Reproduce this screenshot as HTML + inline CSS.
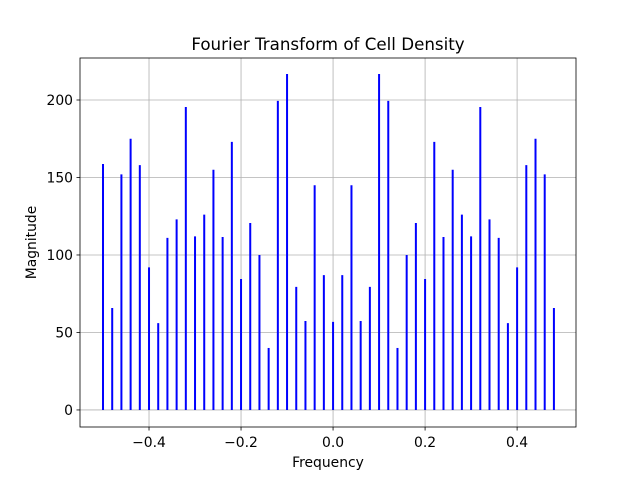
<!DOCTYPE html>
<html><head><meta charset="utf-8"><style>
body{margin:0;background:#fff;font-family:"Liberation Sans","DejaVu Sans",sans-serif}
svg text{font-family:"DejaVu Sans","Liberation Sans",sans-serif;fill:#000}
</style></head><body>
<svg id="c" width="640" height="480"></svg>
<script>
const freqs=[];for(let i=0;i<50;i++)freqs.push(-0.5+i*0.02);
const magnitudes=[158.7,65.8,152,175,158,92,56,111,123,195.5,112,126,155,111.6,173,84.5,120.6,100,40,199.4,216.8,79.4,57.4,145,87,56.8,87,145,57.4,79.4,216.8,199.4,40,100,120.6,84.5,173,111.6,155,126,112,195.5,123,111,56,92,158,175,152,65.8];
const xTicks=[-0.4,-0.2,0.0,0.2,0.4];
const xTickLabels=["−0.4","−0.2","0.0","0.2","0.4"];
const yTicks=[0,50,100,150,200];
const L=80,R=576,T=58,B=427;
const xMin=-0.55,xMax=0.528,yMin=-11,yMax=227.1;
const X=v=>L+(v-xMin)/(xMax-xMin)*(R-L);
const Y=v=>B-(v-yMin)/(yMax-yMin)*(B-T);
const svg=document.getElementById('c');const NS='http://www.w3.org/2000/svg';
function mk(t,a,p){const e=document.createElementNS(NS,t);for(const k in a)e.setAttribute(k,a[k]);(p||svg).appendChild(e);return e;}
xTicks.forEach((v,i)=>{const x=X(v);
const g=mk('line',{x1:x,x2:x,y1:T,y2:B,stroke:'#b0b0b0','stroke-width':0.8});

mk('line',{x1:x,x2:x,y1:B,y2:B+3.5,stroke:'#000','stroke-width':0.8});
const t=mk('text',{x:x,y:B+20,'text-anchor':'middle','font-size':13.9});t.textContent=xTickLabels[i];
});
yTicks.forEach(v=>{const y=Y(v);
const g=mk('line',{x1:L,x2:R,y1:y,y2:y,stroke:'#b0b0b0','stroke-width':0.8});

mk('line',{x1:L-3.5,x2:L,y1:y,y2:y,stroke:'#000','stroke-width':0.8});
const t=mk('text',{x:L-7,y:y+5,'text-anchor':'end','font-size':13.9});t.textContent=String(v);
});
freqs.forEach((f,i)=>{const x=X(f);
const l=mk('line',{x1:x,x2:x,y1:Y(0),y2:Y(magnitudes[i]),stroke:'#0000ff','stroke-width':2});
});
const fr=mk('rect',{x:L,y:T,width:R-L,height:B-T,fill:'none',stroke:'#000','stroke-width':0.8});

let t=mk('text',{x:(L+R)/2,y:50,'text-anchor':'middle','font-size':16.7});t.textContent='Fourier Transform of Cell Density';

t=mk('text',{x:(L+R)/2,y:467,'text-anchor':'middle','font-size':13.9});t.textContent='Frequency';

t=mk('text',{x:36,y:(T+B)/2,'text-anchor':'middle','font-size':13.9,transform:'rotate(-90 36 '+(T+B)/2+')'});t.textContent='Magnitude';

</script>
</body></html>
